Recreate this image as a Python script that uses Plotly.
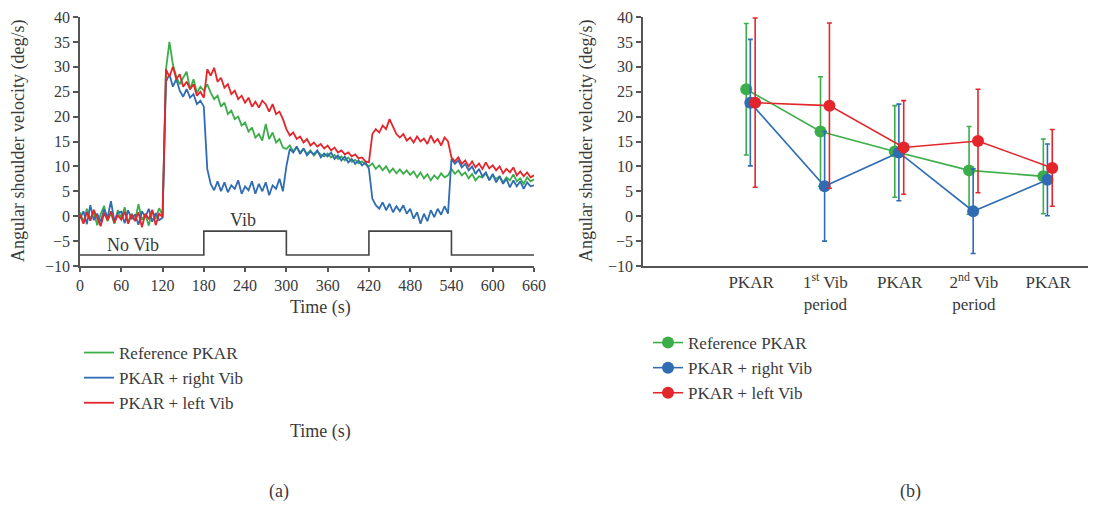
import plotly.graph_objects as go

W, H = 1088, 498   # page body has an 8 px margin
OFF = 8

# ---------------- Panel (a) data: time series sampled every 5 s ----------------
time_s = list(range(0, 661, 5))

ref_pkar = [
    0.8, -1.2, 1.5, -0.6, 0.9, -1.8, 0.4, 2.1, -1.0, 0.6, -1.5, 1.2,
    -0.4, 1.8, -1.3, 0.5, -0.9, 2.4, -0.7, 0.3, -1.9, 1.1, -0.5, 1.6,
    0.2, 29.5, 35.0, 30.5, 28.0, 26.5, 27.8, 29.0, 25.5, 27.5, 24.8, 26.0,
    25.2, 26.5, 24.8, 23.5, 24.2, 22.0, 22.8, 20.5, 21.2, 19.5, 20.0, 18.2,
    18.8, 17.0, 17.8, 15.8, 16.5, 15.2, 18.5, 15.5, 16.8, 14.8, 15.5, 13.8,
    13.5, 14.2, 13.0, 13.8, 12.8, 13.5, 12.5, 13.2, 12.2, 13.0, 12.4, 12.0,
    12.6, 11.8, 12.3, 11.5, 12.0, 11.2, 11.8, 10.9, 11.3, 10.6, 11.0, 10.4,
    10.0, 10.6, 9.5, 10.2, 9.2, 10.0, 8.8, 9.6, 8.6, 9.4, 8.5, 9.2,
    8.3, 9.0, 7.8, 8.8, 7.6, 8.4, 7.2, 8.2, 7.5, 8.6, 7.8, 8.2,
    9.5, 8.5, 9.2, 8.2, 8.8, 7.6, 8.5, 7.2, 8.0, 7.8, 8.6, 7.4,
    8.2, 7.5, 8.0, 6.8, 7.8, 7.2, 8.4, 7.0, 7.6, 6.5, 7.8, 7.0,
    7.4,
]

right_vib = [
    -0.5, 1.0, -1.6, 2.2, -0.8, 0.5, -1.2, 1.4, -0.3, 3.0, -1.0, 0.7,
    0.9, -1.4, 1.2, -0.6, 0.4, -1.7, 1.0, -0.2, 1.5, -1.1, 0.6, -0.8,
    -0.3, 27.0, 28.5, 26.0, 27.5, 25.2, 24.0, 25.5, 23.8, 24.5, 22.5, 23.2,
    22.0, 9.5, 6.5, 5.2, 7.0, 5.0, 6.8, 4.8, 6.2, 5.5, 7.2, 4.5,
    6.0, 5.2, 7.0, 4.5, 6.5, 5.0, 6.8, 4.2, 6.2, 5.5, 7.5, 5.0,
    10.0, 13.5, 12.8, 14.0, 12.5, 13.6, 12.2, 13.0, 12.4, 13.2, 11.8, 12.6,
    12.0, 12.8, 11.5, 12.2, 11.2, 12.0, 10.8, 11.5, 10.5, 11.2, 10.2, 10.8,
    9.5, 3.5, 2.2, 1.5, 2.8, 1.2, 2.5, 0.8, 2.0, 1.0, 2.2, 0.5,
    1.5, -0.5, 0.8, -1.5, 0.5, -1.0, 1.2, -0.2, 1.5, 0.3, 2.0, 0.5,
    11.5, 10.5, 11.2, 9.8, 10.5, 9.2, 10.0, 8.5, 9.5, 8.0, 8.8, 7.2,
    8.5, 6.8, 8.0, 6.5, 7.5, 5.8, 7.2, 6.0, 7.0, 5.5, 6.8, 6.0,
    6.2,
]

left_vib = [
    0.3, -1.5, 0.8, -0.9, 1.3, -0.4, -2.0, 0.6, -0.8, 1.0, -1.3, 0.2,
    -0.7, 0.9, -1.5, 0.4, -1.0, 0.8, -2.2, 0.5, -0.6, 1.3, -1.8, 0.5,
    -0.2, 29.5, 28.0, 30.0, 27.5, 28.5, 26.0, 27.0, 25.5, 26.5, 24.2, 25.0,
    23.8, 29.5, 28.2, 29.8, 27.0, 27.8, 25.8, 26.5, 24.5, 25.2, 23.5, 24.2,
    22.8, 23.8, 22.0, 23.0, 21.8, 23.2, 22.5, 21.0, 22.5, 20.5, 21.0, 19.5,
    17.5, 16.2, 16.8, 15.5, 16.0, 14.8, 15.5, 14.2, 14.8, 14.0, 14.5, 13.6,
    14.2, 13.2, 13.8, 12.8, 13.2, 12.4, 12.8, 12.0, 12.4, 11.6, 11.8, 11.0,
    10.8, 16.5, 17.5, 16.8, 18.2, 17.5, 19.5, 18.0, 16.5, 15.8, 16.5, 15.2,
    15.8, 14.8, 16.0, 15.0, 15.6, 14.5, 16.2, 14.8, 15.5, 14.2, 15.8, 15.0,
    11.8, 11.0, 11.8, 10.5, 11.2, 10.0, 11.0, 9.8, 10.6, 9.5, 10.8, 9.6,
    10.2, 9.2, 10.0, 8.6, 9.5, 8.8, 9.8, 8.2, 9.0, 8.0, 8.8, 7.8,
    8.2,
]

# stimulation indicator (step)
stim_t = [0, 180, 300, 420, 540, 660]
stim_v = [-7.8, -3.0, -7.8, -3.0, -7.8, -7.8]

x_ticks_a = [0, 60, 120, 180, 240, 300, 360, 420, 480, 540, 600, 660]
y_ticks = [-10, -5, 0, 5, 10, 15, 20, 25, 30, 35, 40]

# ---------------- Panel (b) data: means and SD ----------------
periods = ["PKAR", "1<sup>st</sup> Vib<br>period", "PKAR", "2<sup>nd</sup> Vib<br>period", "PKAR"]
period_pos = [1, 2, 3, 4, 5]

ref_mean = [25.5, 17.0, 13.0, 9.2, 8.0]
ref_sd = [13.2, 11.0, 9.2, 8.8, 7.5]
right_mean = [22.8, 6.0, 12.8, 1.0, 7.3]
right_sd = [12.7, 11.0, 9.7, 8.5, 7.2]
left_mean = [22.8, 22.2, 13.8, 15.1, 9.7]
left_sd = [17.0, 16.6, 9.4, 10.4, 7.7]

series_names = ["Reference PKAR", "PKAR + right Vib", "PKAR + left Vib"]
colors = ["#3bae4a", "#2f6cb3", "#e3262b"]
offsets = [-0.065, -0.01, 0.055]

FONT = "Liberation Serif"
TXT = "#3a3a3a"
AX = "#555555"
TICK = 16
LBL = 18

fig = go.Figure()

for name, vals, col in zip(series_names, [ref_pkar, right_vib, left_vib], colors):
    fig.add_trace(go.Scatter(
        x=time_s, y=vals, mode="lines", name=name,
        line=dict(color=col, width=1.8),
        xaxis="x", yaxis="y", legend="legend",
    ))
fig.add_trace(go.Scatter(
    x=stim_t, y=stim_v, mode="lines", line=dict(color="#444444", width=1.6, shape="hv"),
    showlegend=False, xaxis="x", yaxis="y",
))

for name, m, sd, col, off in zip(series_names, [ref_mean, right_mean, left_mean],
                                 [ref_sd, right_sd, left_sd], colors, offsets):
    fig.add_trace(go.Scatter(
        x=[p + off for p in period_pos], y=m, mode="lines+markers", name=name,
        line=dict(color=col, width=1.6),
        marker=dict(color=col, size=12),
        error_y=dict(type="data", array=sd, visible=True, color=col, thickness=1.6, width=2.5),
        xaxis="x2", yaxis="y2", legend="legend2",
    ))

def px_x(p):
    return (p - OFF) / W

def px_y(p):
    return 1 - (p - OFF) / H

ydom = [px_y(266), px_y(17)]

def note(text, x, y, size=LBL, angle=0, xref="paper", yref="paper"):
    return dict(text=text, x=x, y=y, xref=xref, yref=yref, textangle=angle,
                xanchor="center", yanchor="middle", showarrow=False,
                font=dict(family=FONT, size=size, color=TXT))

fig.update_layout(
    width=W, height=H,
    margin=dict(l=0, r=0, t=0, b=0, autoexpand=False),
    paper_bgcolor="white", plot_bgcolor="white",
    font=dict(family=FONT, size=LBL, color=TXT),
    xaxis=dict(
        domain=[px_x(80), px_x(534)], range=[0, 660], tickvals=x_ticks_a,
        showgrid=False, zeroline=False, showline=True, linecolor=AX, linewidth=1.5,
        ticks="outside", ticklen=4, tickcolor=AX, tickwidth=1.5,
        tickfont=dict(family=FONT, size=TICK, color=TXT), anchor="y",
    ),
    yaxis=dict(
        domain=ydom, range=[-10, 40], tickvals=y_ticks,
        showgrid=False, zeroline=False, showline=True, linecolor=AX, linewidth=1.5,
        ticks="outside", ticklen=5, tickcolor=AX, tickwidth=1.5,
        tickfont=dict(family=FONT, size=TICK, color=TXT), anchor="x",
    ),
    xaxis2=dict(
        domain=[px_x(643), px_x(1092)], range=[-0.455, 5.59],
        tickvals=period_pos, ticktext=periods,
        showgrid=False, zeroline=False, showline=True, linecolor=AX, linewidth=1.5,
        ticks="", tickfont=dict(family=FONT, size=17, color=TXT), anchor="y2",
    ),
    yaxis2=dict(
        domain=ydom, range=[-10, 40], tickvals=y_ticks,
        showgrid=False, zeroline=False, showline=True, linecolor=AX, linewidth=1.5,
        ticks="outside", ticklen=5, tickcolor=AX, tickwidth=1.5,
        tickfont=dict(family=FONT, size=TICK, color=TXT), anchor="x2",
    ),
    legend=dict(
        x=px_x(79), y=px_y(335), xanchor="left", yanchor="top",
        bgcolor="rgba(0,0,0,0)", font=dict(family=FONT, size=17, color=TXT),
        tracegroupgap=0,
    ),
    legend2=dict(
        x=px_x(648), y=px_y(325), xanchor="left", yanchor="top",
        bgcolor="rgba(0,0,0,0)", font=dict(family=FONT, size=17, color=TXT),
        tracegroupgap=0,
    ),
    annotations=[
        note("Angular shoulder velocity (deg/s)", px_x(18), px_y(141), angle=-90),
        note("Angular shoulder velocity (deg/s)", px_x(586), px_y(141), angle=-90),
        note("Time (s)", px_x(320), px_y(307)),
        note("Time (s)", px_x(320), px_y(431)),
        note("No Vib", 77, -5.8, xref="x", yref="y"),
        note("Vib", 237, -0.8, xref="x", yref="y"),
        note("(a)", px_x(279), px_y(491)),
        note("(b)", px_x(910), px_y(491)),
    ],
)

fig.write_html("out.html")
